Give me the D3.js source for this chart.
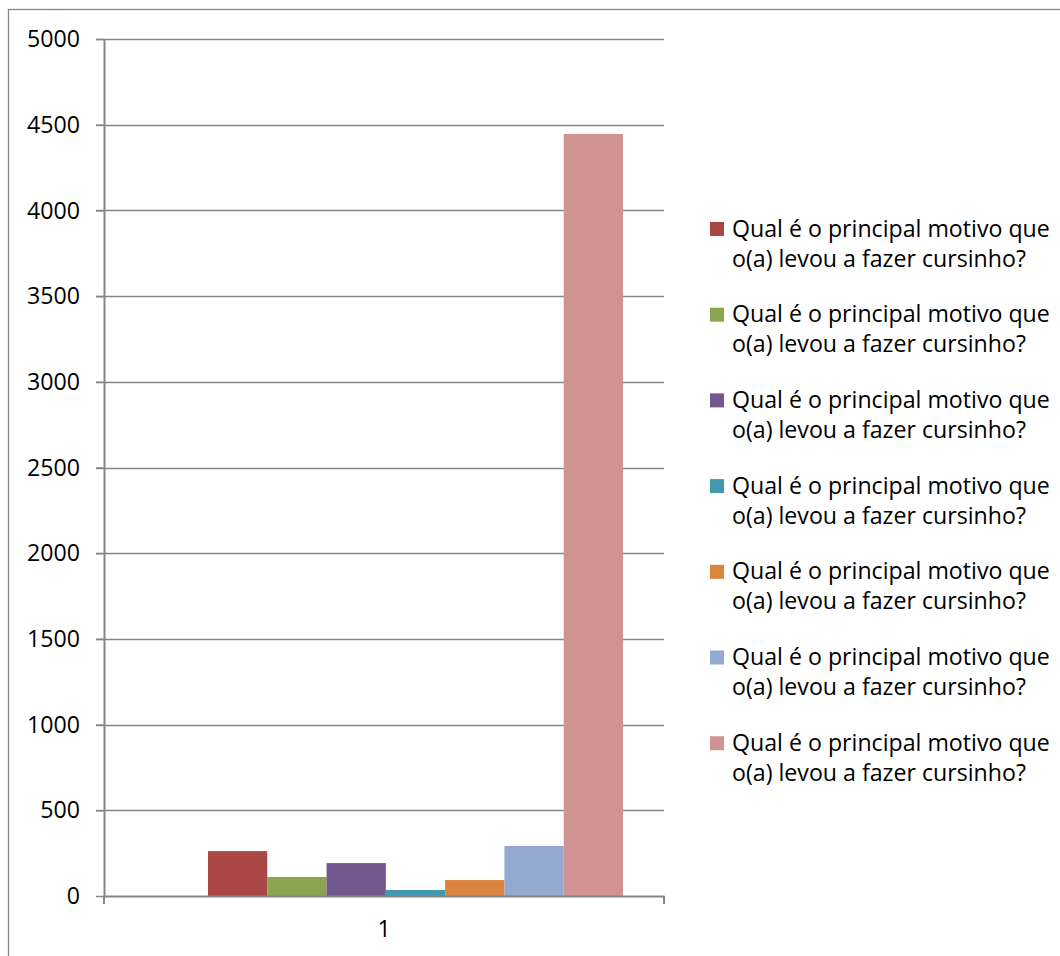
<!DOCTYPE html>
<html><head><meta charset="utf-8">
<script src="https://cdn.jsdelivr.net/npm/d3@7"></script>
<style>html,body{margin:0;padding:0;background:#fff;overflow:hidden}</style>
</head><body>
<svg id="c" width="1060" height="956"></svg>
<script>
const categories = ["1"];
const seriesNames = [
  "Qual é o principal motivo que o(a) levou a fazer cursinho?",
  "Qual é o principal motivo que o(a) levou a fazer cursinho?",
  "Qual é o principal motivo que o(a) levou a fazer cursinho?",
  "Qual é o principal motivo que o(a) levou a fazer cursinho?",
  "Qual é o principal motivo que o(a) levou a fazer cursinho?",
  "Qual é o principal motivo que o(a) levou a fazer cursinho?",
  "Qual é o principal motivo que o(a) levou a fazer cursinho?"
];
const legendLine1 = "Qual é o principal motivo que";
const legendLine2 = "o(a) levou a fazer cursinho?";
const seriesValues = [262, 111, 192, 35, 93, 292, 4446];
const seriesColors = ["#AA4643", "#89A54E", "#71588F", "#4198AF", "#DB843D", "#93A9CF", "#D19392"];
const yTicks = [0, 500, 1000, 1500, 2000, 2500, 3000, 3500, 4000, 4500, 5000];

const FONT = "'Open Sans', sans-serif";
const svg = d3.select("#c");

// pick font size so legend line matches target width
const probe = svg.append("text").attr("font-family", FONT).attr("font-size", 20).text(legendLine1);
const w20 = probe.node().getComputedTextLength();
probe.remove();
const FS = Math.max(18, Math.min(24, 20 * 318 / w20));

// outer frame
svg.append("rect").attr("x", 8.5).attr("y", 9.5).attr("width", 1100).attr("height", 1000)
  .attr("fill", "none").attr("stroke", "#868686").attr("stroke-width", 1.3);

const plot = {left: 104, right: 664, top: 39, bottom: 896};
const y = d3.scaleLinear().domain([0, 5000]).range([plot.bottom, plot.top]);
const x0 = d3.scaleBand().domain(categories).range([plot.left, plot.right]);
const xs = d3.scaleBand().domain(d3.range(seriesValues.length))
  .range([x0("1") + 104, x0("1") + 519]).padding(0);

// gridlines
svg.append("g").selectAll("line").data(yTicks.filter(d => d > 0)).join("line")
  .attr("x1", plot.left - 8).attr("x2", plot.right)
  .attr("y1", d => Math.round(y(d)) + 0.5).attr("y2", d => Math.round(y(d)) + 0.5)
  .attr("stroke", "#868686").attr("stroke-width", 1.5);

// bars
svg.append("g").selectAll("rect").data(seriesValues).join("rect")
  .attr("x", (d, i) => xs(i)).attr("width", xs.bandwidth())
  .attr("y", d => y(d)).attr("height", d => y(0) - y(d))
  .attr("fill", (d, i) => seriesColors[i]);

// y axis
const yAxis = d3.axisLeft(y).tickValues(yTicks).tickFormat(d3.format("d"))
  .tickSize(8).tickSizeOuter(0).tickPadding(16);
const gy = svg.append("g").attr("transform", `translate(${plot.left},0)`).call(yAxis);
gy.select(".domain").attr("stroke", "#868686").attr("stroke-width", 2);
gy.selectAll(".tick line").attr("stroke", "#868686").attr("stroke-width", 1.5);
gy.selectAll(".tick text").attr("font-family", FONT).attr("font-size", FS).attr("fill", "#000")
  .attr("dy", "0.33em");

// x axis
const xAxis = d3.axisBottom(x0).tickSize(0).tickPadding(25);
const gx = svg.append("g").attr("transform", `translate(0,${plot.bottom})`).call(xAxis);
gx.select(".domain").attr("stroke", "#868686").attr("stroke-width", 2);
gx.selectAll(".tick text").attr("font-family", FONT).attr("font-size", FS).attr("fill", "#000")
  .attr("dy", "0.71em");
// category boundary ticks
gx.append("g").selectAll("line").data([plot.left, plot.right]).join("line")
  .attr("x1", d => d).attr("x2", d => d).attr("y1", 0).attr("y2", 8)
  .attr("stroke", "#868686").attr("stroke-width", 2);

// legend
const leg = svg.append("g");
const item = leg.selectAll("g").data(seriesNames).join("g")
  .attr("transform", (d, i) => `translate(710,${222 + i * 85.7})`);
item.append("rect").attr("width", 14).attr("height", 14).attr("fill", (d, i) => seriesColors[i]);
item.append("text").attr("x", 22).attr("y", 14.5).text(legendLine1)
  .attr("font-family", FONT).attr("font-size", FS).attr("fill", "#000");
item.append("text").attr("x", 22).attr("y", 44.5).text(legendLine2)
  .attr("font-family", FONT).attr("font-size", FS).attr("fill", "#000");
</script>
</body></html>
